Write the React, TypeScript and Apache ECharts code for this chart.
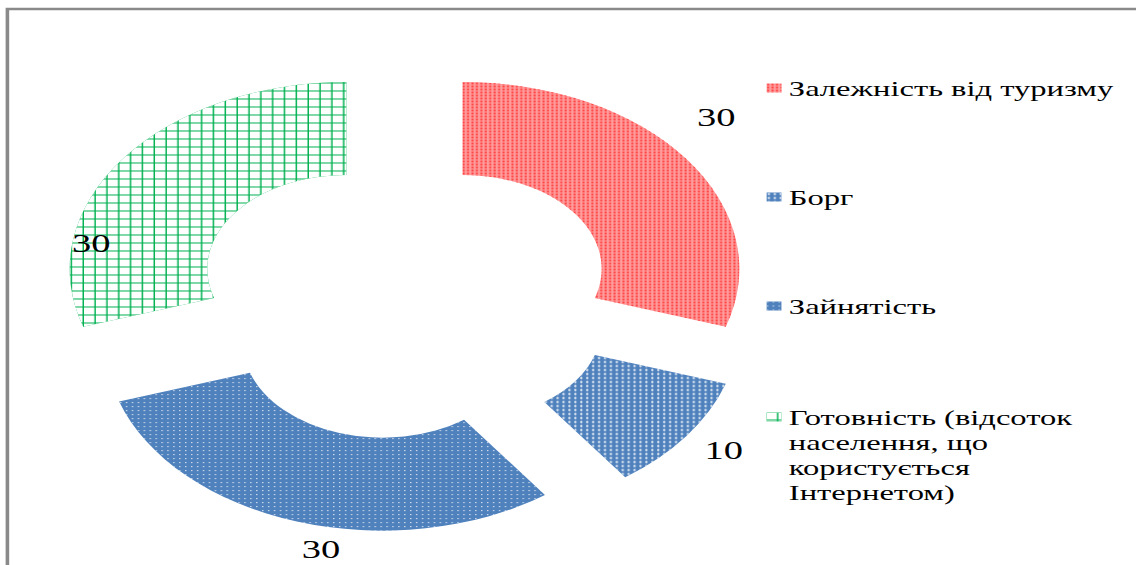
import React, { useEffect, useRef } from 'react';
import * as echarts from 'echarts';

// ---- data ----
const categories = [
  'Залежність від туризму',
  'Борг',
  'Зайнятість',
  'Готовність (відсоток населення, що користується Інтернетом)',
];
const values = [30, 10, 30, 30];

// ---- style / layout ----
const STRETCH = 1.48; // the reference picture is stretched horizontally
const W = 1136;
const H = 565;
const BASE_W = W / STRETCH;
const FONT = '"Liberation Serif", "Times New Roman", serif';

const sliceColors = ['#ff9c9c', '#4f81bd', '#4f81bd', '#00b050'];
const sliceDecals = [
  { symbol: 'circle', symbolSize: 0.9, dashArrayX: [2, 1], dashArrayY: [2, 1], color: '#ff3a3a' },
  { symbol: 'circle', symbolSize: 0.55, dashArrayX: [3, 1], dashArrayY: [3, 1], color: '#ffffff' },
  { symbol: 'rect', symbolSize: 1, dashArrayX: [1, 3], dashArrayY: [1, 3], color: 'rgba(255,255,255,0.8)' },
  { symbol: 'rect', symbolSize: 1, dashArrayX: [7, 1], dashArrayY: [7, 1], color: '#ffffff' },
];
const labelShift = [
  [-10, -33],
  [-5, 6],
  [39, 14],
  [9, 93],
];

// greedy word wrap for long legend names; leading blank lines keep the
// legend icon level with the first text line (the text block is centred on the icon)
function wrapName(name: string, maxChars = 20): string {
  const words = name.split(' ');
  const lines: string[] = [];
  let cur = '';
  for (const w of words) {
    if (!cur) cur = w;
    else if ((cur + ' ' + w).length <= maxChars) cur += ' ' + w;
    else {
      lines.push(cur);
      cur = w;
    }
  }
  if (cur) lines.push(cur);
  const pad = new Array(lines.length - 1).fill(' ');
  return [...pad, ...lines].join('\n');
}

const legendBase = {
  orient: 'vertical',
  left: 518,
  padding: 0,
  itemWidth: 10,
  itemHeight: 9,
  itemGap: 84,
  icon: 'rect',
  selectedMode: false,
  textStyle: {
    fontFamily: FONT,
    fontSize: 22,
    color: '#000000',
    lineHeight: 25,
  },
};

export default function App() {
  const ref = useRef<HTMLDivElement>(null);
  useEffect(() => {
    const chart = echarts.init(ref.current!, null, { renderer: 'svg' });
    chart.setOption({
      animation: false,
      backgroundColor: '#ffffff',
      graphic: [
        {
          type: 'polyline',
          shape: { points: [[5, 600], [5, 9], [BASE_W + 5, 9]] },
          style: { stroke: '#8a8a8a', lineWidth: 2.4, fill: 'none' },
          silent: true,
        },
      ],
      legend: [
        {
          ...legendBase,
          top: 75.5,
          data: categories.slice(0, 3),
        },
        {
          ...legendBase,
          top: 329.5,
          formatter: (name: string) => wrapName(name),
          data: [categories[3]],
        },
      ],
      series: [
        {
          type: 'pie',
          center: [273.3, 297.5],
          radius: [94, 187],
          startAngle: 90,
          clockwise: true,
          selectedMode: 'multiple',
          selectedOffset: 48.5,
          avoidLabelOverlap: false,
          emphasis: { disabled: true },
          select: { itemStyle: { borderWidth: 0 } },
          label: {
            show: true,
            position: 'outside',
            formatter: '{c}',
            fontFamily: FONT,
            fontSize: 26,
            color: '#000000',
          },
          labelLine: { show: false, length: 15, length2: 0 },
          labelLayout: (p: any) => ({
            dx: labelShift[p.dataIndex][0],
            dy: labelShift[p.dataIndex][1],
          }),
          data: categories.map((name, i) => ({
            name,
            value: values[i],
            selected: true,
            itemStyle: { color: sliceColors[i], decal: sliceDecals[i], borderWidth: 0 },
          })),
        },
      ],
    });
    return () => chart.dispose();
  }, []);
  return (
    <div
      ref={ref}
      style={{
        position: 'absolute',
        left: 0,
        top: 0,
        width: BASE_W,
        height: H,
        transform: `scaleX(${STRETCH})`,
        transformOrigin: '0 0',
        background: '#ffffff',
      }}
    />
  );
}
